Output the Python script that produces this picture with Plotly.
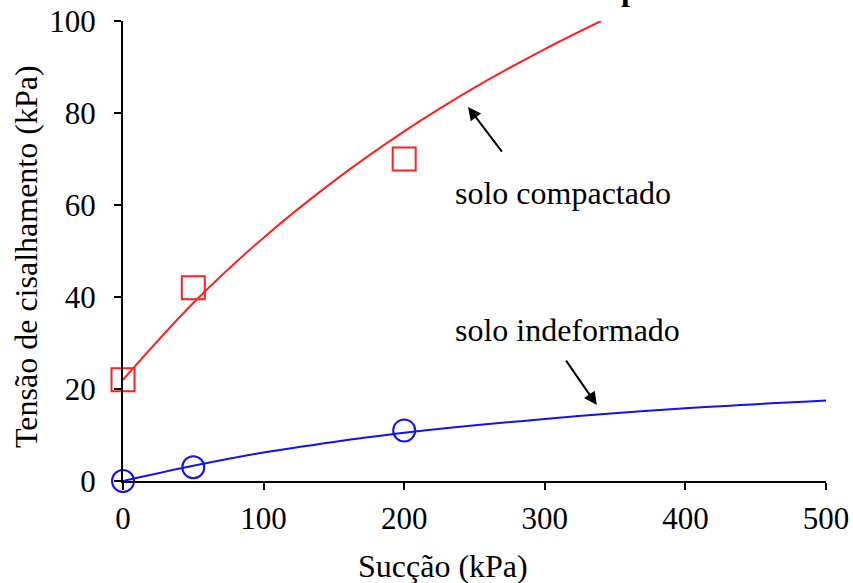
import plotly.graph_objects as go

# Measured points
succao_pts = [0, 50, 200]
compactado_pts = [22, 42, 70]
indeformado_pts = [0, 3, 11]

# Fitted curves
curve_comp_x = [0, 50, 100, 150, 200, 250, 300, 340]
curve_comp_y = [22, 38.7, 52.9, 65.2, 76, 85.5, 93.9, 100]
curve_ind_x = [0, 50, 100, 150, 200, 300, 400, 500]
curve_ind_y = [0, 3.3, 6.2, 8.5, 10.5, 13.5, 15.8, 17.5]

x_ticks = [0, 100, 200, 300, 400, 500]
y_ticks = [0, 20, 40, 60, 80, 100]

FONT = "Liberation Serif, Times New Roman, serif"
RED = "#FF2020"
BLUE = "#1010FF"

fig = go.Figure()
fig.add_trace(go.Scatter(x=curve_comp_x, y=curve_comp_y, mode="lines",
                         line=dict(color=RED, width=2, shape="spline"),
                         cliponaxis=False, showlegend=False, hoverinfo="skip"))
fig.add_trace(go.Scatter(x=curve_ind_x, y=curve_ind_y, mode="lines",
                         line=dict(color=BLUE, width=2, shape="spline"),
                         cliponaxis=False, showlegend=False, hoverinfo="skip"))
fig.add_trace(go.Scatter(x=succao_pts, y=compactado_pts, mode="markers",
                         marker=dict(symbol="square-open", size=23,
                                     line=dict(color=RED, width=2), color=RED),
                         cliponaxis=False, showlegend=False))
fig.add_trace(go.Scatter(x=succao_pts, y=indeformado_pts, mode="markers",
                         marker=dict(symbol="circle-open", size=22,
                                     line=dict(color=BLUE, width=2), color=BLUE),
                         cliponaxis=False, showlegend=False))

fig.add_annotation(x=245.4, y=81.3, ax=270.3, ay=71.3, xref="x", yref="y",
                   axref="x", ayref="y", text="", showarrow=True,
                   arrowhead=2, arrowsize=1.3, arrowwidth=2, arrowcolor="black")
fig.add_annotation(x=337, y=16.5, ax=314.4, ay=26.5, xref="x", yref="y",
                   axref="x", ayref="y", text="", showarrow=True,
                   arrowhead=2, arrowsize=1.3, arrowwidth=2, arrowcolor="black")
fig.add_annotation(x=313, y=62.6, xref="x", yref="y", text="solo compactado",
                   showarrow=False, font=dict(family=FONT, size=32, color="black"))
fig.add_annotation(x=316, y=32.8, xref="x", yref="y", text="solo indeformado",
                   showarrow=False, font=dict(family=FONT, size=32, color="black"))

# axis titles
fig.add_annotation(x=0, y=0.487, xref="paper", yref="paper", xshift=-117,
                   text="Tensão de cisalhamento (kPa)", textangle=-90,
                   showarrow=False, font=dict(family=FONT, size=32, color="black"))
fig.add_annotation(x=0.455, y=-0.228, xref="paper", yref="paper",
                   text="Sucção (kPa)", showarrow=False,
                   font=dict(family=FONT, size=32, color="black"))

# title cut off at the top of the picture
fig.add_annotation(x=0.504, y=1.027, xref="paper", yref="paper", yanchor="bottom",
                   text="<b>amostras indeformadas e compactadas</b>", showarrow=False,
                   font=dict(family=FONT, size=32, color="black"))

axis_common = dict(showgrid=False, zeroline=False, showline=True, linecolor="black",
                   linewidth=2, ticks="outside", ticklen=7, tickwidth=2, automargin=False,
                   tickcolor="black", tickfont=dict(family=FONT, size=31, color="black"))
fig.update_xaxes(range=[0, 500], tickvals=x_ticks, ticklabelstandoff=2, **axis_common)
fig.update_yaxes(range=[0, 100], tickvals=y_ticks, ticklabelstandoff=12, **axis_common)

fig.update_layout(width=853, height=583, margin=dict(l=123, r=27, t=21, b=102),
                  plot_bgcolor="white", paper_bgcolor="white",
                  font=dict(family=FONT, color="black"))

fig.write_html("out.html", config={"displayModeBar": False},
               post_script="document.body.style.margin='0';document.body.style.overflow='hidden';")
